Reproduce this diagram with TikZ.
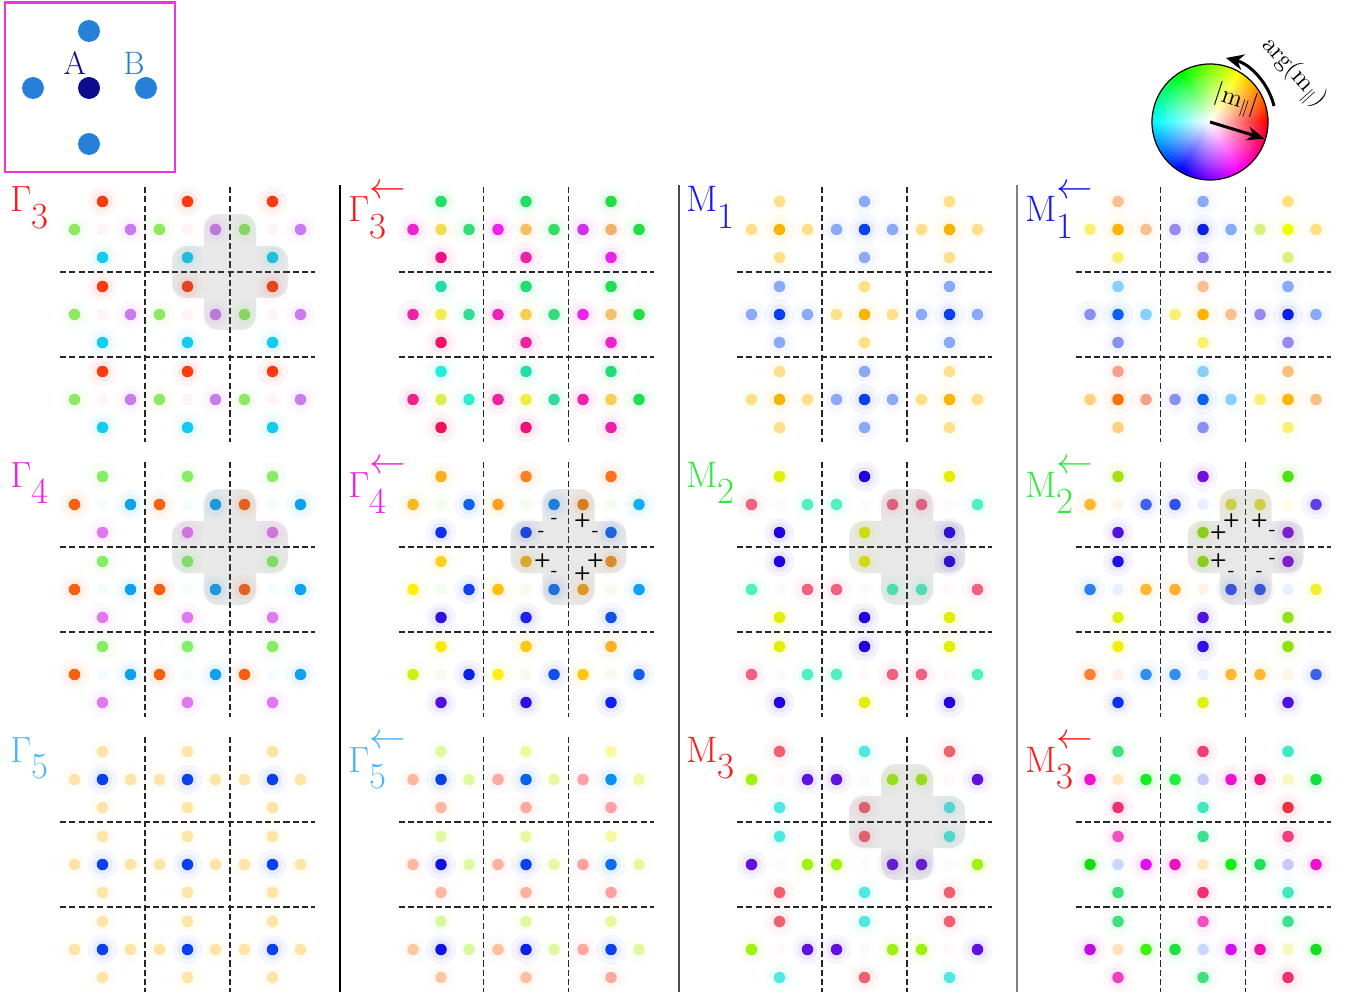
\documentclass[tikz,border=0pt]{standalone}
\usepackage{tikz}
\usetikzlibrary{arrows.meta,fadings}

\definecolor{irred}{HTML}{FF1A1A}
\definecolor{irmag}{HTML}{F020E8}
\definecolor{irblue}{HTML}{1A1AEE}
\definecolor{irgreen}{HTML}{2EEA3C}
\definecolor{irsky}{HTML}{4CB4F8}
\definecolor{insetmag}{HTML}{EE33E0}
\definecolor{siteA}{HTML}{0C0C8C}
\definecolor{siteB}{HTML}{2680D8}

\tikzfading[name=wheelfade, inner color=transparent!0, outer color=transparent!100]

\tikzset{
  gridline/.style={black!85, dash pattern=on 3.5pt off 1.8pt, line width=0.75pt},
  sepline/.style={line width=0.9pt},
  crossfill/.style={fill=black!55, opacity=0.16, rounded corners=0.3cm},
  sign/.style={font=\sffamily\bfseries\fontsize{11}{11}\selectfont, inner sep=0pt},
  irrep/.style={anchor=base west, inner sep=0pt, font=\fontsize{21}{23}\selectfont},
  site/.style={circle, inner sep=0pt, minimum size=0.44cm},
  sitelab/.style={anchor=base, inner sep=0pt, font=\fontsize{18.5}{19}\selectfont},
}

% one magnetic site: x, y, colour
\newcommand{\sitedot}[3]{%
  \definecolor{dotc}{HTML}{#3}%
  \fill[dotc, opacity=0.045] (#1,#2) circle (0.3cm);
  \fill[dotc, opacity=0.06] (#1,#2) circle (0.2cm);
  \fill[dotc] (#1,#2) circle (0.115cm);
}
% unit cell: col, row, top, left, centre, right, bottom
\newcommand{\ucell}[7]{%
  \pgfmathsetmacro{\ux}{85*#1+42.5}%
  \pgfmathsetmacro{\uy}{85*#2+42.5}%
  \sitedot{\ux}{\uy-28}{#3}%
  \sitedot{\ux-28}{\uy}{#4}%
  \sitedot{\ux}{\uy}{#5}%
  \sitedot{\ux+28}{\uy}{#6}%
  \sitedot{\ux}{\uy+28}{#7}%
}
\newcommand{\gridlines}{%
  \foreach \g in {85,170} {
    \draw[gridline] (\g,0) -- (\g,255);
    \draw[gridline] (0,\g) -- (255,\g);
  }
}
\newcommand{\crossmark}{%
  \fill[crossfill] (112,59) rectangle (228,111) (144,27) rectangle (196,143);
}
\newcommand{\lowsub}[1]{\raisebox{-0.45em}{#1}}
\newcommand{\revsub}[1]{\raisebox{-0.45em}{\rlap{\raisebox{1.1em}{$\leftarrow$}}#1}}

\begin{document}
\begin{tikzpicture}[x=0.02cm, y=-0.02cm]
  \useasboundingbox (0,0) rectangle (1348,996);

  % Inset: unit cell with A and B sites
  \draw[line width=1.7pt, insetmag] (5,3) rectangle (175,172);
  \node[site, fill=siteA] (A)  at (89,88)  {};
  \node[site, fill=siteB] (Bl) at (33,88)  {};
  \node[site, fill=siteB] (Br) at (146,88) {};
  \node[site, fill=siteB] (Bt) at (89,31)  {};
  \node[site, fill=siteB] (Bb) at (89,144) {};
  \node[sitelab, text=siteA] (labA) at (75,75)  {A};
  \node[sitelab, text=siteB] (labB) at (134,75) {B};

  % Column separators
  \draw[sepline, black]   (340,185) -- (340,992);
  \draw[sepline, black!70] (679,185) -- (679,992);
  \draw[sepline, black!50] (1017,185) -- (1017,992);

  % Gamma_3
  \begin{scope}[shift={(60,187)}]
    \foreach \ci in {0,1,2} {\foreach \ri in {0,1,2} {
      \ucell{\ci}{\ri}{FF3A10}{8EE860}{FFF4F4}{C97BF0}{12CCEE}}}
    \gridlines
    \crossmark
  \end{scope}
  % Gamma_3 reversed
  \begin{scope}[shift={(398.5,187)}]
    \foreach \ci/\ri/\tp/\lf/\cn/\rt/\bt in {
      0/0/22DD66/EE22CC/EEDD55/33DD77/EE1188, 1/0/22DD66/EE22EE/F5C060/33DD66/EE22AA,
      2/0/22DD44/CC33EE/F5B070/22DD44/EE22EE, 0/1/22DDAA/EE22AA/EEEE55/33DD99/EE1166,
      1/1/22DD77/EE22BB/F5D050/33DD77/EE2299, 2/1/22DD55/EE22EE/F5C070/22DD44/EE22CC,
      0/2/22EEDD/EE2288/DDEE55/33EECC/EE1155, 1/2/22DDAA/EE2299/EEEE44/33DD99/EE1177,
      2/2/22DD77/EE22AA/F5D055/22DD55/EE22AA}
      {\ucell{\ci}{\ri}{\tp}{\lf}{\cn}{\rt}{\bt}}
    \gridlines
  \end{scope}
  % M_1
  \begin{scope}[shift={(737,187)}]
    \foreach \ci/\ri/\tp/\lf/\cn/\rt/\bt in {
      0/0/FFE08A/FFE08A/F8B400/FFE08A/FFE08A, 1/0/8CA8F8/8CA8F8/0A40F0/8CA8F8/8CA8F8,
      2/0/FFE08A/FFE08A/F8B400/FFE08A/FFE08A, 0/1/8CA8F8/8CA8F8/0A40F0/8CA8F8/8CA8F8,
      1/1/FFE08A/FFE08A/F8B400/FFE08A/FFE08A, 2/1/8CA8F8/8CA8F8/0A40F0/8CA8F8/8CA8F8,
      0/2/FFE08A/FFE08A/F8B400/FFE08A/FFE08A, 1/2/8CA8F8/8CA8F8/0A40F0/8CA8F8/8CA8F8,
      2/2/FFE08A/FFE08A/F8B400/FFE08A/FFE08A}
      {\ucell{\ci}{\ri}{\tp}{\lf}{\cn}{\rt}{\bt}}
    \gridlines
  \end{scope}
  % M_1 reversed
  \begin{scope}[shift={(1075.5,187)}]
    \foreach \ci/\ri/\tp/\lf/\cn/\rt/\bt in {
      0/0/F8C090/F8F070/FFB400/F8C090/F8F070, 1/0/88AAF8/9988F0/0A20E8/88AAF8/9988F0,
      2/0/FFE080/D8F080/EEFF00/FFE080/D8F080, 0/1/88D0F8/8890F0/0A60F0/88D0F8/8890F0,
      1/1/F8C090/F8F070/FFB400/F8C090/F8F070, 2/1/88AAF8/9988F0/0A20E8/88AAF8/9988F0,
      0/2/F8A088/FFD080/FF7000/F8A088/FFD080, 1/2/88D0F8/8890F0/0A60F0/88D0F8/8890F0,
      2/2/F8C080/F8F070/FFB400/F8C080/F8F070}
      {\ucell{\ci}{\ri}{\tp}{\lf}{\cn}{\rt}{\bt}}
    \gridlines
  \end{scope}

  % Gamma_4
  \begin{scope}[shift={(60,462)}]
    \foreach \ci in {0,1,2} {\foreach \ri in {0,1,2} {
      \ucell{\ci}{\ri}{86EE66}{F86010}{F4FCFF}{10A0F0}{E078F0}}}
    \gridlines
    \crossmark
  \end{scope}
  % Gamma_4 reversed
  \begin{scope}[shift={(398.5,462)}]
    \foreach \ci/\ri/\tp/\lf/\cn/\rt/\bt in {
      0/0/F8B020/F8B820/F4FCEC/1060F0/1030F0, 1/0/FF8020/FFA020/F4FCEC/1080F0/1040F0,
      2/0/FF7020/F08010/F4FCEC/10B0F8/1060F0, 0/1/FFD020/FFEE10/F4FCEC/1040F0/3010E0,
      1/1/F0B020/FFC010/F4FCEC/1070F0/2020F0, 2/1/F09020/F0A020/F4FCEC/10A0F8/1050F0,
      0/2/FFE810/D0F010/F4FCEC/0A20E8/5010E0, 1/2/FFC810/FFEE10/F4FCEC/1050F0/3010E0,
      2/2/FFB020/FFC810/F4FCEC/1060F0/1020F0}
      {\ucell{\ci}{\ri}{\tp}{\lf}{\cn}{\rt}{\bt}}
    \gridlines
    \crossmark
    \foreach \sx/\sy/\sg [count=\k] in {-14/-26/-, 14/-26/+, -27/-13/-, 27/-13/-,
        -26/14/+, 27/14/+, -14/27/-, 14/27/+}
      \node[sign] (ga\k) at (170+\sx,85+\sy) {\sg};
  \end{scope}
  % M_2
  \begin{scope}[shift={(737,462)}]
    \foreach \ci/\ri/\tp/\lf/\cn/\rt/\bt in {
      0/0/E0F000/F06080/FFF8FF/50F0C0/2000E0, 1/0/2000E0/50F0C0/FFF8FF/F06080/E0F000,
      2/0/E0F000/F06080/FFF8FF/50F0C0/2000E0, 0/1/2000E0/50F0C0/FFF8FF/F06080/E0F000,
      1/1/E0F000/F06080/FFF8FF/50F0C0/2000E0, 2/1/2000E0/50F0C0/FFF8FF/F06080/E0F000,
      0/2/E0F000/F06080/FFF8FF/50F0C0/2000E0, 1/2/2000E0/50F0C0/FFF8FF/F06080/E0F000,
      2/2/E0F000/F06080/FFF8FF/50F0C0/2000E0}
      {\ucell{\ci}{\ri}{\tp}{\lf}{\cn}{\rt}{\bt}}
    \gridlines
    \crossmark
  \end{scope}
  % M_2 reversed
  \begin{scope}[shift={(1075.5,462)}]
    \foreach \ci/\ri/\tp/\lf/\cn/\rt/\bt in {
      0/0/A8E010/FFB830/FFF4E8/4060F0/5010E0, 1/0/7010E0/3050F0/E8F0FF/E0E040/90E010,
      2/0/50E010/E0E040/FFFCE8/6040E8/8010D8, 0/1/2010E8/3080F0/E8F0FF/FFB830/E0F010,
      1/1/90E010/FFB030/FFF4E8/3050E8/5010E0, 2/1/8010D8/3050E8/E8F0FF/F0F030/90E020,
      0/2/F0F010/FF8030/FFF0E8/3090F0/1030F0, 1/2/3010E8/3090F0/E8F0FF/FFB830/E0F010,
      2/2/90E010/FFB830/FFF4E8/4060F0/5010E0}
      {\ucell{\ci}{\ri}{\tp}{\lf}{\cn}{\rt}{\bt}}
    \gridlines
    \crossmark
    \foreach \sx/\sy/\sg [count=\k] in {-14/-26/+, 14/-26/+, -27/-14/+, 27/-14/-,
        -27/14/+, 27/14/-, -14/27/-, 14/27/-}
      \node[sign] (mb\k) at (170+\sx,85+\sy) {\sg};
  \end{scope}

  % Gamma_5
  \begin{scope}[shift={(60,737)}]
    \foreach \ci in {0,1,2} {\foreach \ri in {0,1,2} {
      \ucell{\ci}{\ri}{FFE4A8}{FFE4A8}{0A40F0}{FFE4A8}{FFE4A8}}}
    \gridlines
  \end{scope}
  % Gamma_5 reversed
  \begin{scope}[shift={(398.5,737)}]
    \foreach \ci/\ri/\tp/\lf/\cn/\rt/\bt in {
      0/0/E0F8A0/FFB8A0/0A40E8/E0F8A0/FFB8A0, 1/0/F0F8A0/FFA8A0/0A60F0/E8F8A0/FFA8A0,
      2/0/F8F8A0/FFA0A8/0A90F0/F0F8A0/FFA0A8, 0/1/E0F8A0/FFB8A0/1010E0/E0F8A0/FFB8A0,
      1/1/E8F8A0/FFB0A0/0A40F0/E8F8A0/FFB0A0, 2/1/F8F8A0/FFA0A0/0A70F0/E8F8A0/FFA0A0,
      0/2/D8F8A0/FFC8A0/1010E0/D8F8A0/FFC8A0, 1/2/E0F8A0/FFC0A0/1020E8/E0F8A0/FFC0A0,
      2/2/E8F8A0/FFA8A0/0A40F0/E0F8A0/FFA8A0}
      {\ucell{\ci}{\ri}{\tp}{\lf}{\cn}{\rt}{\bt}}
    \gridlines
  \end{scope}
  % M_3
  \begin{scope}[shift={(737,737)}]
    \foreach \ci/\ri/\tp/\lf/\cn/\rt/\bt in {
      0/0/F06070/A0F010/FFF8FF/6010E0/50E8E0, 1/0/50E8E0/6010E0/FFF8FF/A0F010/F06070,
      2/0/F06070/A0F010/FFF8FF/6010E0/50E8E0, 0/1/50E8E0/6010E0/FFF8FF/A0F010/F06070,
      1/1/F06070/A0F010/FFF8FF/6010E0/50E8E0, 2/1/50E8E0/6010E0/FFF8FF/A0F010/F06070,
      0/2/F06070/A0F010/FFF8FF/6010E0/50E8E0, 1/2/50E8E0/6010E0/FFF8FF/A0F010/F06070,
      2/2/F06070/A0F010/FFF8FF/6010E0/50E8E0}
      {\ucell{\ci}{\ri}{\tp}{\lf}{\cn}{\rt}{\bt}}
    \gridlines
    \crossmark
  \end{scope}
  % M_3 reversed
  \begin{scope}[shift={(1075.5,737)}]
    \foreach \ci/\ri/\tp/\lf/\cn/\rt/\bt in {
      0/0/40E080/F010D0/FFE8C0/10F020/F03070, 1/0/F04070/20F040/C8C8FF/F010D0/40E8C0,
      2/0/40E8C8/F01080/F8F8C0/10E040/F03040, 0/1/F050C0/10E010/C8D8FF/E010F0/40E080,
      1/1/40E090/F010C0/FFE8C0/10F010/F03070, 2/1/F04080/20E060/C8C8FF/F010D0/40E8C0,
      0/2/40E080/C010E0/FFE0C0/40F010/F040C0, 1/2/F050C0/20E040/C8D8FF/D010F0/40E080,
      2/2/40E090/F010B0/F8F8C0/10E020/F03070}
      {\ucell{\ci}{\ri}{\tp}{\lf}{\cn}{\rt}{\bt}}
    \gridlines
  \end{scope}

  % Irrep labels
  \node[irrep, text=irred]   (G3)  at (10,212)   {$\Gamma$\lowsub{3}};
  \node[irrep, text=irred]   (G3r) at (348,222)  {$\Gamma$\revsub{3}};
  \node[irrep, text=irblue]  (M1)  at (686,212)  {M\lowsub{1}};
  \node[irrep, text=irblue]  (M1r) at (1025,222) {M\revsub{1}};
  \node[irrep, text=irmag]   (G4)  at (10,487)   {$\Gamma$\lowsub{4}};
  \node[irrep, text=irmag]   (G4r) at (348,497)  {$\Gamma$\revsub{4}};
  \node[irrep, text=irgreen] (M2)  at (686,487)  {M\lowsub{2}};
  \node[irrep, text=irgreen] (M2r) at (1025,497) {M\revsub{2}};
  \node[irrep, text=irsky]   (G5)  at (10,762)   {$\Gamma$\lowsub{5}};
  \node[irrep, text=irsky]   (G5r) at (348,772)  {$\Gamma$\revsub{5}};
  \node[irrep, text=irred]   (M3)  at (686,762)  {M\lowsub{3}};
  \node[irrep, text=irred]   (M3r) at (1025,772) {M\revsub{3}};

  % Colour wheel for m_parallel
  \begin{scope}[shift={(1210,122)}, yscale=-1]
    \foreach \a in {0,4,...,356} {
      \pgfmathsetmacro{\hh}{\a/360}
      \definecolor{huec}{hsb}{\hh,1,1}
      \fill[huec] (0,0) -- (\a-2.5:58) arc (\a-2.5:\a+2.5:58) -- cycle;
    }
    \fill[white, path fading=wheelfade, fading transform={scale=0.95}] (0,0) circle (58);
    \draw[line width=0.7pt] (0,0) circle (58);
    \coordinate (wheel) at (0,0);
    \coordinate (mtip) at (-17:57);
    \coordinate (arcstart) at (14:66);
    \draw[line width=1.7pt, -{Stealth[length=10pt, width=8pt]}] (wheel) -- (mtip);
    \draw[line width=1.7pt, -{Stealth[length=10pt, width=9pt]}] (arcstart) arc (14:76:66);
  \end{scope}
  \node[rotate=-18, font=\fontsize{14}{14}\selectfont, inner sep=0pt] (modlab) at (1236,101) {$|\mathrm{m}_{\parallel}|$};
  \node[rotate=-48, font=\fontsize{14}{14}\selectfont, inner sep=0pt] (arglab) at (1293,73) {$\arg(\mathrm{m}_{\parallel})$};
\end{tikzpicture}
\end{document}
